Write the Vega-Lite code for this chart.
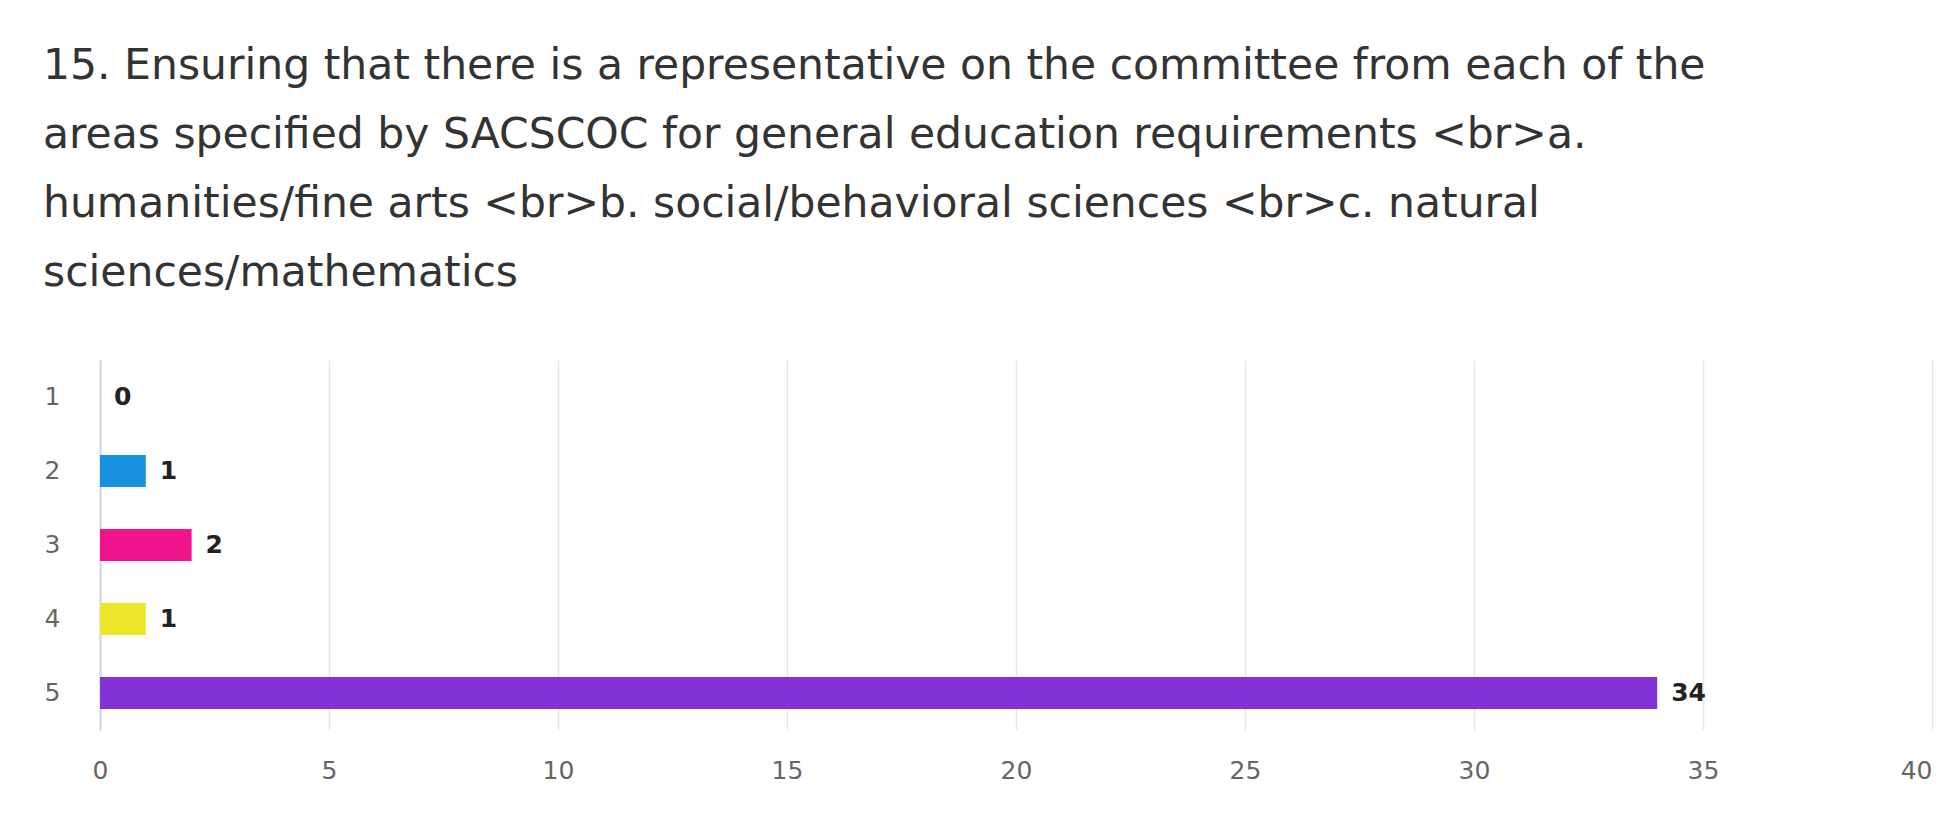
{
  "$schema": "https://vega.github.io/schema/vega-lite/v6.json",
  "width": 1832,
  "height": 370,
  "autosize": {"type": "none"},
  "padding": {"left": 100, "top": 360, "right": 27, "bottom": 106},
  "background": "white",
  "config": {"view": {"stroke": null}, "font": "DejaVu Sans"},
  "title": {
    "text": [
      "15. Ensuring that there is a representative on the committee from each of the",
      "areas specified by SACSCOC for general education requirements <br>a.",
      "humanities/fine arts <br>b. social/behavioral sciences <br>c. natural",
      "sciences/mathematics"
    ],
    "anchor": "start",
    "frame": "group",
    "dx": -57,
    "offset": 66,
    "fontSize": 42.5,
    "fontWeight": "normal",
    "font": "DejaVu Sans",
    "color": "#333333",
    "lineHeight": 69
  },
  "data": {
    "values": [
      {"rating": "1", "count": 0},
      {"rating": "2", "count": 1},
      {"rating": "3", "count": 2},
      {"rating": "4", "count": 1},
      {"rating": "5", "count": 34}
    ]
  },
  "encoding": {
    "y": {
      "field": "rating",
      "type": "nominal",
      "sort": null,
      "scale": {"paddingInner": 0.567, "paddingOuter": 0.2835},
      "axis": {
        "title": null,
        "ticks": false,
        "grid": false,
        "domain": true,
        "domainColor": "#ccd6eb",
        "domainWidth": 2,
        "labelPadding": 40,
        "labelFontSize": 25,
        "labelColor": "#666666",
        "labelFont": "DejaVu Sans"
      }
    },
    "x": {
      "field": "count",
      "type": "quantitative",
      "scale": {"domain": [0, 40], "nice": false},
      "axis": {
        "title": null,
        "values": [0, 5, 10, 15, 20, 25, 30, 35, 40],
        "ticks": false,
        "domain": false,
        "grid": true,
        "gridColor": "#e6e6e6",
        "gridWidth": 1.5,
        "labelPadding": 28,
        "labelFontSize": 25,
        "labelColor": "#666666",
        "labelFont": "DejaVu Sans",
        "labelFlush": false,
        "labelAlign": {"condition": {"test": "datum.value == 40", "value": "right"}, "value": "center"}
      }
    }
  },
  "layer": [
    {
      "mark": {"type": "bar"},
      "encoding": {
        "color": {
          "field": "rating",
          "type": "nominal",
          "legend": null,
          "scale": {
            "domain": ["1", "2", "3", "4", "5"],
            "range": ["#7cb5ec", "#1a90e0", "#f0148c", "#ece62a", "#8332d6"]
          }
        }
      }
    },
    {
      "mark": {
        "type": "text",
        "align": "left",
        "baseline": "middle",
        "dx": 14,
        "fontSize": 25,
        "fontWeight": "bold",
        "font": "DejaVu Sans",
        "color": "#222222"
      },
      "encoding": {"text": {"field": "count", "type": "quantitative"}}
    }
  ]
}
